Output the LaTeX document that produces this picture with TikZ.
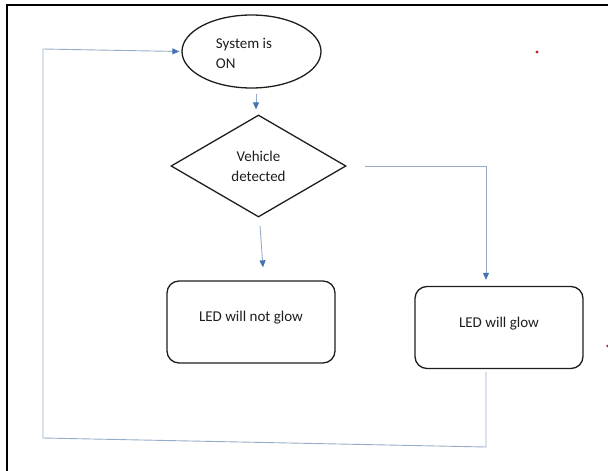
\documentclass[tikz,border=0pt]{standalone}
\usepackage{fontspec}
\setmainfont{Carlito}
\usetikzlibrary{shapes.geometric,arrows.meta,calc}
\definecolor{conncol}{RGB}{150,172,200}
\definecolor{tipcol}{RGB}{68,114,178}
\definecolor{edgecol}{RGB}{30,30,30}
\definecolor{dotred}{RGB}{200,30,40}
\tikzset{
  txt/.style={font=\fontsize{15}{20}\selectfont, text=edgecol},
  startnode/.style={ellipse, draw=edgecol, line width=1.3pt, minimum width=139pt, minimum height=73pt, inner sep=0pt},
  decision/.style={diamond, draw=edgecol, line width=1.3pt, minimum width=175pt, minimum height=102pt, aspect=1.7, inner sep=0pt, txt, align=center},
  procbox/.style={rectangle, rounded corners=12pt, draw=edgecol, line width=1.3pt, minimum width=168pt, minimum height=82pt, txt, text height=10pt, text depth=11pt},
  conn/.style={draw=conncol, line width=0.9pt},
  arr/.style={conn, -{Triangle[length=7pt,width=6pt,color=tipcol]}},
  frameline/.style={draw=black, line width=2.4pt}
}
\begin{document}
\begin{tikzpicture}[x=1pt,y=-1pt]
\useasboundingbox (0,0) rectangle (608,471);
% frame (top and left edges)
\draw[frameline] (7,471) -- (7,5) -- (608,5);
% nodes
\node[startnode] (e) at (251.5,51.5) {};
\node[txt, align=left, anchor=center] (etxt) at (244,53) {System is\\ON};
\node[decision] (d) at (258.5,166) {Vehicle\\detected};
\node[procbox] (b1) at (251,322) {LED will not glow};
\node[procbox] (b2) at (499,327.5) {LED will glow};
% loop corners
\coordinate (c1) at (486,447);
\coordinate (c2) at (43,438);
\coordinate (c3) at (43,49);
% connectors
\draw[arr] ($(e.south)+(4.5,5)$) -- ($(d.north)+(-2.5,-5)$);
\draw[arr] ($(d.south)+(1.5,8)$) -- ($(b1.north)+(12,-13)$);
\draw[arr] ($(d.east)+(18,0)$) -| ($(b2.north)+(-13,-6)$);
\draw[conn] ($(b2.south)+(-13,3)$) -- (c1) -- (c2) -- (c3);
\draw[arr] (c3) -- ($(e.west)+(-2,0)$);
% stray red marks
\fill[dotred] (537,52) circle (1.6pt);
\fill[dotred] (607.5,346) circle (1.4pt);
\end{tikzpicture}
\end{document}
